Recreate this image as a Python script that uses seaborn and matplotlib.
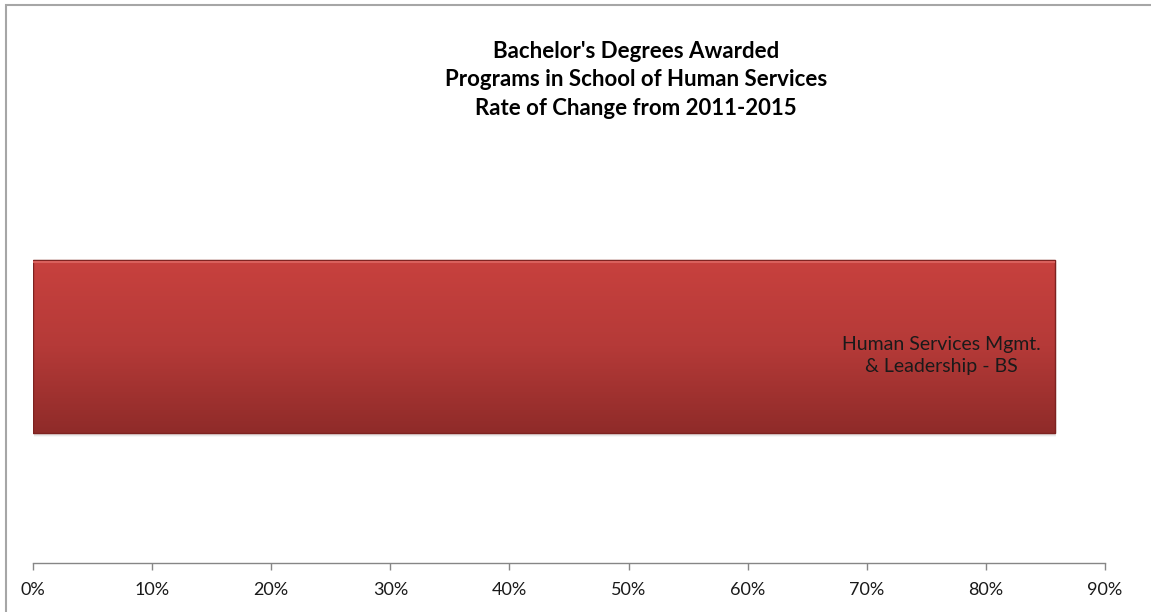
import matplotlib
matplotlib.use("Agg")
import matplotlib.pyplot as plt
import matplotlib.patches as mpatches
from matplotlib.colors import LinearSegmentedColormap
from matplotlib.ticker import PercentFormatter
import numpy as np
import pandas as pd
import seaborn as sns

programs = ["Human Services Mgmt.\n& Leadership - BS"]
rate_of_change = [0.858]
x_ticks = [0.0, 0.1, 0.2, 0.3, 0.4, 0.5, 0.6, 0.7, 0.8, 0.9]
title_lines = ["Bachelor's Degrees Awarded",
               "Programs in School of Human Services",
               "Rate of Change from 2011-2015"]

sns.set_theme(style="white")
plt.rcParams["font.family"] = ["Lato", "DejaVu Sans"]

df = pd.DataFrame({"program": programs, "rate": rate_of_change})

fig = plt.figure(figsize=(11.51, 6.12), dpi=100)
fig.patch.set_facecolor("white")

# thin frame around the chart area
fig.add_artist(mpatches.Rectangle((6 / 1151, -0.05), 1.2, 1 - 5 / 612 + 0.05,
                                  transform=fig.transFigure, fill=False,
                                  edgecolor="#a6a6a6", linewidth=1.5))

ax = fig.add_axes([33 / 1151, 1 - 563 / 612, (1105 - 33) / 1151, 433 / 612])
sns.barplot(data=df, x="rate", y="program", orient="h", ax=ax,
            color="#b5393a", width=0.8, edgecolor="#8a2624", linewidth=0.8)

ax.set_xlim(0, 0.9)
ax.set_ylim(1.0, -1.0)

# vertical red gradient clipped to each bar
cmap = LinearSegmentedColormap.from_list("bar", ["#c8413e", "#b53a38", "#8f2b29"])
grad = np.linspace(0, 1, 256).reshape(-1, 1)
for patch in ax.patches:
    x0, y0 = patch.get_x(), patch.get_y()
    w, h = patch.get_width(), patch.get_height()
    # soft drop shadow under the bar
    for k, a in enumerate([0.10, 0.06, 0.03]):
        shadow = mpatches.Rectangle((x0 + 0.001, y0 + 0.006 * (k + 1)), w, h,
                                    facecolor="#000000", alpha=a,
                                    edgecolor="none", zorder=patch.get_zorder() - 0.5)
        ax.add_patch(shadow)
    im = ax.imshow(grad, extent=(x0, x0 + w, y0 + h, y0), cmap=cmap,
                   aspect="auto", zorder=patch.get_zorder() + 0.1,
                   interpolation="bicubic")
    im.set_clip_path(patch)
    edge = mpatches.Rectangle((x0, y0), w, h, fill=False,
                              edgecolor="#7d2220", linewidth=1.0,
                              zorder=patch.get_zorder() + 0.2)
    ax.add_patch(edge)
    # light top bevel
    ax.plot([x0, x0 + w], [y0 + 0.01, y0 + 0.01], color="#d9605c",
            linewidth=1.5, zorder=patch.get_zorder() + 0.3, solid_capstyle="butt")
ax.set_xlim(0, 0.9)
ax.set_ylim(1.0, -1.0)

# value-end label inside the bar
for i, (name, val) in enumerate(zip(programs, rate_of_change)):
    ax.annotate(name, xy=(val, i + 0.04), xytext=(-14, 0),
                textcoords="offset pixels", ha="right", va="center",
                multialignment="center", fontsize=14, color="#1a1a1a",
                zorder=10, linespacing=1.35)

ax.set_xticks(x_ticks)
ax.xaxis.set_major_formatter(PercentFormatter(1.0, decimals=0))
ax.tick_params(axis="x", direction="out", length=5, width=1, color="#868686",
               labelsize=13, labelcolor="#1a1a1a", pad=8.5, bottom=True)
ax.set_yticks([])
ax.set_xlabel("")
ax.set_ylabel("")
for side in ["left", "top", "right"]:
    ax.spines[side].set_visible(False)
ax.spines["bottom"].set_color("#868686")
ax.spines["bottom"].set_linewidth(1)
ax.set_facecolor("none")

fig.text(636 / 1151, 1 - 80 / 612, "\n".join(title_lines), ha="center", va="center",
         fontsize=16, fontweight="bold", color="#000000", linespacing=1.42)

fig.savefig("out.png", dpi=100, facecolor="white")
